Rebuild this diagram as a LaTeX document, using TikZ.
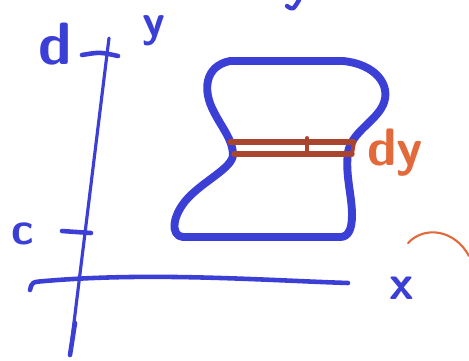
\documentclass[tikz,border=0pt]{standalone}
\usepackage{tikz}
\usetikzlibrary{calc}
\definecolor{PenBlue}{HTML}{3B3FD6}
\definecolor{PenBrown}{HTML}{A9452E}
\definecolor{PenOrange}{HTML}{E2693A}

\begin{document}
\begin{tikzpicture}[x=0.02cm, y=-0.02cm, line cap=round, line join=round,
        axis/.style={draw=PenBlue, line width=1.8pt},
        tick/.style={draw=PenBlue, line width=2.6pt},
        region/.style={draw=PenBlue, line width=4.5pt},
        strip/.style={draw=PenBrown, line width=3pt},
        lbl/.style={text=PenBlue, font=\sffamily\bfseries\fontsize{34}{34}\selectfont, inner sep=0pt},
        dlbl/.style={text=PenOrange, font=\sffamily\bfseries\fontsize{30}{30}\selectfont, inner sep=0pt}]
        \useasboundingbox (0,0) rectangle (469,360);
        \fill[white] (0,0) rectangle (469,360);

        % axes
        \coordinate (ybot) at (70,355);
        \coordinate (ytop) at (109,38);
        \draw[axis] (ybot) -- (ytop);
        \draw[tick] (ybot) -- (75,323);
        \draw[axis, line width=2.6pt] (30,290) .. controls (32,282) .. (45,281)
            .. controls (150,272) and (260,280) .. (348,283);

        % ticks for c and d
        \coordinate (dleft) at (82,55);
        \coordinate (dright) at (118,56);
        \coordinate (cleft) at (62,231);
        \coordinate (cright) at (91,233);
        \draw[tick] (dleft) .. controls (100,52) .. (dright);
        \draw[tick] (cleft) -- (cright);

        \node[lbl] (d) at (55,44) {d};
        \node[lbl, font=\sffamily\bfseries\fontsize{26}{26}\selectfont] (c) at (23,234) {c};
        \node[lbl, anchor=north, font=\sffamily\bfseries\fontsize{26}{26}\selectfont] (y) at (154,15) {y};
        \node[lbl, font=\sffamily\bfseries\fontsize{28}{28}\selectfont] (x) at (402,288) {x};

        % region
        \draw[region] (230,61) -- (343,61)
            .. controls (375,64) and (392,85) .. (383,105)
            .. controls (375,122) and (352,132) .. (348,152)
            .. controls (345,175) and (352,195) .. (352,215)
            .. controls (352,230) and (348,237) .. (340,237)
            -- (183,237)
            .. controls (170,236) and (172,215) .. (188,198)
            .. controls (205,180) and (232,168) .. (233,155)
            .. controls (233,140) and (222,128) .. (214,112)
            .. controls (202,90) and (205,66) .. (230,61) -- cycle;

        % slice dy
        \coordinate (sl1) at (230,142);
        \coordinate (sr1) at (354,142);
        \coordinate (sl2) at (234,154);
        \coordinate (sr2) at (352,154);
        \draw[strip] (sl1) -- (sr1);
        \draw[strip] (sl2) -- (sr2);
        \draw[strip, line width=2.2pt] (307,138) -- (307,152);
        \draw[strip, line width=2.2pt] (sr1) -- (sr2);
        \node[dlbl] (dy) at (395,153) {dy};

        % bits of other sketches
        \draw[PenOrange, line width=1.2pt] (408,243) .. controls (425,225) and (455,230) .. (469,256);
        \draw[PenBlue, line width=2.5pt] (287,6) .. controls (293,10) .. (299,0);
    \end{tikzpicture}
\end{document}
